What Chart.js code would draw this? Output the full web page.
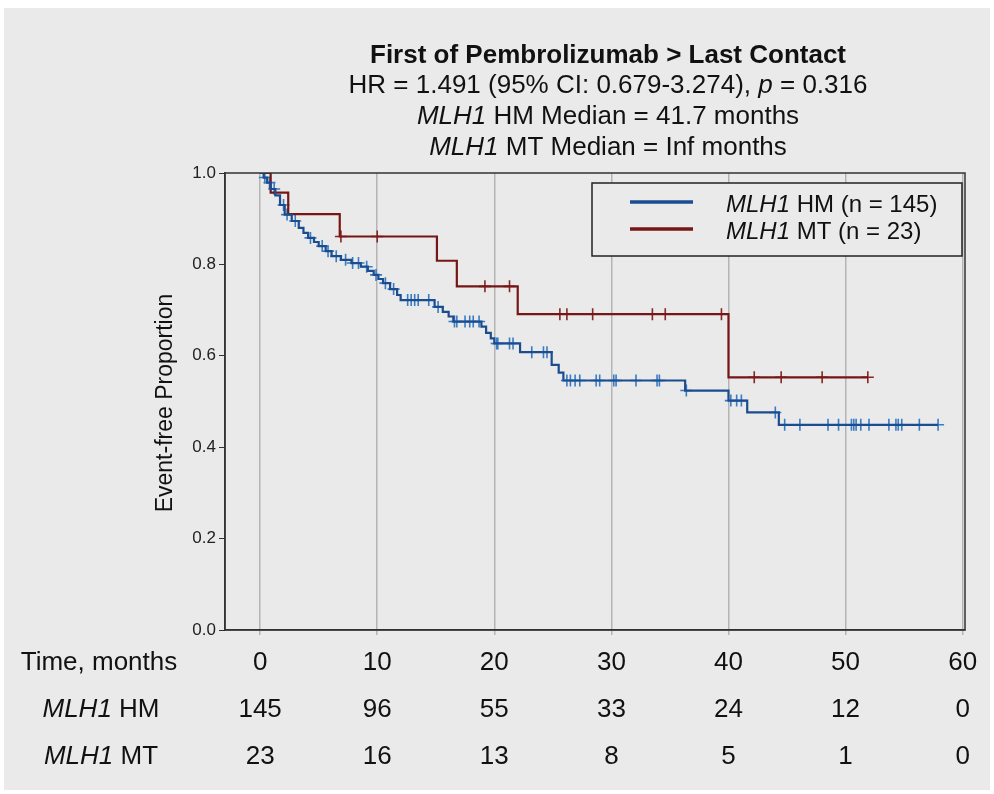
<!DOCTYPE html>
<html>
<head>
<meta charset="utf-8">
<script src="https://cdn.jsdelivr.net/npm/chart.js@4.4.1/dist/chart.umd.min.js"></script>
<style>
  html, body { margin: 0; padding: 0; background: #ffffff; }
  #wrap { width: 994px; height: 794px; }
</style>
</head>
<body>
<div id="wrap"><canvas id="kmChart" width="994" height="794"></canvas></div>
<script>
// at-risk table
const timeTicks = [0, 10, 20, 30, 40, 50, 60];
const hmAtRisk = [145, 96, 55, 33, 24, 12, 0];
const mtAtRisk = [23, 16, 13, 8, 5, 1, 0];
const yTicks = [0, 0.2, 0.4, 0.6, 0.8, 1.0];

// MLH1 HM: event times and survival after each drop
const hmStepTimes = [0, 0.3, 0.6, 0.9, 1.3, 1.7, 2.1, 2.7, 3.3, 3.7, 4.1, 4.6, 5.0, 5.6, 6.1, 6.9, 7.8, 8.6, 9.2, 9.7,
  10.1, 10.5, 11.1, 11.7, 12.0, 14.9, 15.6, 16.1, 16.5, 18.9, 19.3, 19.7, 20.0, 22.2, 24.9, 25.5, 25.9, 36.3, 40.0, 41.6, 44.3, 57.9];
const hmStepSurv = [1.0, 0.990, 0.979, 0.965, 0.951, 0.930, 0.909, 0.895, 0.880, 0.869, 0.858, 0.849, 0.840, 0.829, 0.818, 0.810, 0.803, 0.795, 0.786, 0.777,
  0.768, 0.759, 0.746, 0.733, 0.722, 0.707, 0.696, 0.686, 0.675, 0.664, 0.650, 0.638, 0.627, 0.608, 0.580, 0.563, 0.546, 0.524, 0.502, 0.476, 0.449, 0.449];
const hmCensorTimes = [0.4, 0.8, 1.2, 2.0, 2.3, 3.0, 4.3, 5.3, 5.8, 6.5, 7.3, 7.9, 8.4, 9.1, 9.9, 10.7, 11.4, 12.6, 12.9, 13.2,
  13.5, 14.4, 15.2, 16.6, 16.8, 17.5, 17.9, 18.2, 18.7, 20.2, 20.3, 21.3, 21.6, 23.2, 24.2, 24.5, 26.2, 26.5, 26.9, 27.3,
  28.7, 29.0, 30.2, 30.4, 32.1, 33.9, 34.1, 36.4, 40.2, 40.7, 41.1, 44.0, 44.8, 46.1, 48.5, 49.4, 50.5, 50.7, 50.9, 51.3,
  52.0, 53.7, 54.3, 54.5, 54.8, 56.3, 57.9];

// MLH1 MT
const mtStepTimes = [0, 0.9, 2.4, 6.8, 15.1, 16.8, 22.0, 40.0, 51.9];
const mtStepSurv = [1.0, 0.957, 0.910, 0.861, 0.808, 0.752, 0.691, 0.553, 0.553];
const mtCensorTimes = [6.9, 10.0, 19.2, 21.3, 25.6, 26.2, 28.4, 33.5, 34.6, 39.4, 42.2, 44.5, 48.0, 51.9];

const hmColor = "#1b4c90";
const hmCensorColor = "#3a7cc2";
const mtColor = "#761616";
const mtCensorColor = "#882626";

const sansFont = "'Liberation Sans', Arial, sans-serif";

function stepPoints(times, surv) {
  return times.map((t, i) => ({ x: t, y: surv[i] }));
}

function survAt(times, surv, t) {
  let s = surv[0];
  for (let i = 0; i < times.length; i++) {
    if (times[i] <= t) s = surv[i];
  }
  return s;
}

function censorPoints(censorTimes, times, surv) {
  return censorTimes.map((t) => ({ x: t, y: survAt(times, surv, t) }));
}

// draws a row of text runs, some italic, centred or left aligned
function drawRuns(ctx, runs, x, y, size, align) {
  let total = 0;
  runs.forEach((r) => {
    ctx.font = `${r.bold ? "bold " : ""}${r.italic ? "italic " : ""}${size}px ${sansFont}`;
    r.w = ctx.measureText(r.text).width;
    total += r.w;
  });
  let cx = align === "center" ? x - total / 2 : x;
  ctx.textAlign = "left";
  ctx.textBaseline = "middle";
  runs.forEach((r) => {
    ctx.font = `${r.bold ? "bold " : ""}${r.italic ? "italic " : ""}${size}px ${sansFont}`;
    ctx.fillText(r.text, cx, y);
    cx += r.w;
  });
}

const decorPlugin = {
  id: "decor",
  beforeDraw(chart) {
    const ctx = chart.ctx;
    ctx.save();
    ctx.fillStyle = "#ffffff";
    ctx.fillRect(0, 0, chart.width, chart.height);
    ctx.fillStyle = "#eaeaea";
    ctx.fillRect(4, 8, chart.width - 8, chart.height - 12);
    ctx.restore();
  },
  afterDraw(chart) {
    const ctx = chart.ctx;
    const area = chart.chartArea;
    const xScale = chart.scales.x;
    ctx.save();

    // frame
    ctx.strokeStyle = "#333333";
    ctx.lineWidth = 1.5;
    ctx.strokeRect(area.left, area.top, area.right - area.left, area.bottom - area.top);

    // title block
    ctx.fillStyle = "#111111";
    const cx = 608;
    drawRuns(ctx, [{ text: "First of Pembrolizumab > Last Contact", bold: true }], cx, 56, 26, "center");
    drawRuns(ctx, [
      { text: "HR = 1.491 (95% CI: 0.679-3.274), " },
      { text: "p", italic: true },
      { text: " = 0.316" }
    ], cx, 86, 26, "center");
    drawRuns(ctx, [{ text: "MLH1", italic: true }, { text: " HM Median = 41.7 months" }], cx, 117, 26, "center");
    drawRuns(ctx, [{ text: "MLH1", italic: true }, { text: " MT Median = Inf months" }], cx, 148, 26, "center");

    // y axis title
    ctx.save();
    ctx.translate(166, 403);
    ctx.rotate(-Math.PI / 2);
    ctx.font = `23px ${sansFont}`;
    ctx.textAlign = "center";
    ctx.textBaseline = "middle";
    ctx.fillText("Event-free Proportion", 0, 0);
    ctx.restore();

    // legend
    ctx.fillStyle = "#eaeaea";
    ctx.fillRect(592, 183, 370, 73);
    ctx.strokeStyle = "#222222";
    ctx.lineWidth = 1.5;
    ctx.strokeRect(592, 183, 370, 73);
    ctx.lineWidth = 3.5;
    ctx.strokeStyle = hmColor;
    ctx.beginPath(); ctx.moveTo(630, 202); ctx.lineTo(693, 202); ctx.stroke();
    ctx.strokeStyle = mtColor;
    ctx.beginPath(); ctx.moveTo(630, 229); ctx.lineTo(693, 229); ctx.stroke();
    ctx.fillStyle = "#111111";
    drawRuns(ctx, [{ text: "MLH1", italic: true }, { text: " HM (n = 145)" }], 726, 205, 24, "left");
    drawRuns(ctx, [{ text: "MLH1", italic: true }, { text: " MT (n = 23)" }], 726, 232, 24, "left");

    // at-risk table
    ctx.fillStyle = "#111111";
    drawRuns(ctx, [{ text: "Time, months" }], 99, 663, 26, "center");
    drawRuns(ctx, [{ text: "MLH1", italic: true }, { text: " HM" }], 101, 710, 26, "center");
    drawRuns(ctx, [{ text: "MLH1", italic: true }, { text: " MT" }], 101, 757, 26, "center");
    ctx.font = `26px ${sansFont}`;
    ctx.textAlign = "center";
    ctx.textBaseline = "middle";
    timeTicks.forEach((t, i) => {
      const px = xScale.getPixelForValue(t);
      ctx.fillText(String(t), px, 663);
      ctx.fillText(String(hmAtRisk[i]), px, 710);
      ctx.fillText(String(mtAtRisk[i]), px, 757);
    });

    ctx.restore();
  }
};

const ctx = document.getElementById("kmChart").getContext("2d");

new Chart(ctx, {
  type: "line",
  data: {
    datasets: [
      {
        label: "MLH1 HM (n = 145)",
        data: stepPoints(hmStepTimes, hmStepSurv),
        borderColor: hmColor,
        borderWidth: 2.2,
        stepped: true,
        pointRadius: 0,
        fill: false
      },
      {
        label: "MLH1 MT (n = 23)",
        data: stepPoints(mtStepTimes, mtStepSurv),
        borderColor: mtColor,
        borderWidth: 2.2,
        stepped: true,
        pointRadius: 0,
        fill: false
      },
      {
        label: "HM censored",
        data: censorPoints(hmCensorTimes, hmStepTimes, hmStepSurv),
        showLine: false,
        pointStyle: "cross",
        pointRadius: 6,
        pointBorderWidth: 1.6,
        pointBorderColor: hmCensorColor,
        borderColor: hmCensorColor
      },
      {
        label: "MT censored",
        data: censorPoints(mtCensorTimes, mtStepTimes, mtStepSurv),
        showLine: false,
        pointStyle: "cross",
        pointRadius: 6,
        pointBorderWidth: 1.6,
        pointBorderColor: mtCensorColor,
        borderColor: mtCensorColor
      }
    ]
  },
  options: {
    responsive: false,
    animation: false,
    events: [],
    layout: {
      padding: { left: 0, right: 29, top: 173, bottom: 0 }
    },
    plugins: {
      legend: { display: false },
      title: { display: false },
      tooltip: { enabled: false }
    },
    scales: {
      x: {
        type: "linear",
        min: -3,
        max: 60.2,
        afterBuildTicks(scale) {
          scale.ticks = timeTicks.map((v) => ({ value: v }));
        },
        afterFit(scale) {
          scale.height = 164;
        },
        ticks: { display: false },
        grid: {
          color: "#b4b4b4",
          lineWidth: 1.5,
          drawTicks: true,
          tickLength: 5
        },
        border: { display: true, color: "#333333", width: 1.5 }
      },
      y: {
        min: 0,
        max: 1,
        afterBuildTicks(scale) {
          scale.ticks = yTicks.map((v) => ({ value: v }));
        },
        afterFit(scale) {
          scale.width = 225;
        },
        ticks: {
          color: "#222222",
          font: { family: sansFont, size: 17 },
          padding: 3,
          callback: (v) => Number(v).toFixed(1)
        },
        grid: {
          drawOnChartArea: false,
          drawTicks: true,
          tickLength: 6,
          color: "#333333"
        },
        border: { display: true, color: "#333333", width: 1.5 }
      }
    }
  },
  plugins: [decorPlugin]
});
</script>
</body>
</html>
